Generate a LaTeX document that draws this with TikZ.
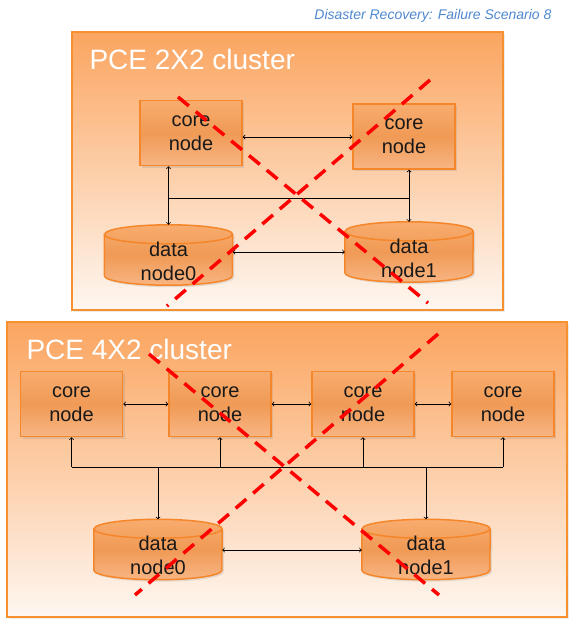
\documentclass[tikz,border=0pt]{standalone}
\usepackage{fontspec}
\setmainfont{Liberation Sans}
\usetikzlibrary{shadows}

\definecolor{clusterTop}{HTML}{FBA560}
\definecolor{clusterBot}{HTML}{FEF7F1}
\definecolor{clusterEdge}{HTML}{F7902F}
\definecolor{nodeTop}{HTML}{F8AC6E}
\definecolor{nodeMid}{HTML}{F09A55}
\definecolor{nodeBot}{HTML}{F8B583}
\definecolor{nodeEdge}{HTML}{F5862A}
\definecolor{titleBlue}{HTML}{4F88D0}

\tikzset{
  cluster/.style={draw=clusterEdge, line width=2pt, top color=clusterTop, bottom color=clusterBot,
    drop shadow={opacity=0.15, shadow xshift=2pt, shadow yshift=-2pt}},
  nodetext/.style={align=center, font=\fontsize{20}{24}\selectfont, text=black!90},
  corenode/.style={nodetext, draw=nodeEdge, line width=1.5pt, minimum width=102pt, minimum height=65pt,
    top color=nodeTop, bottom color=nodeBot, middle color=nodeMid,
    drop shadow={opacity=0.2, shadow xshift=2pt, shadow yshift=-2pt}},
  databox/.style={minimum width=128pt, minimum height=60pt, inner sep=0pt},
  cylfill/.style={draw=nodeEdge, line width=1.5pt, top color=nodeTop, bottom color=nodeBot, middle color=nodeMid,
    drop shadow={opacity=0.2, shadow xshift=2pt, shadow yshift=-2pt}},
  cluster title/.style={anchor=base west, text=white, font=\fontsize{28}{32}\selectfont},
  failx/.style={red, line width=3.5pt, dash pattern=on 14pt off 9pt},
  link/.style={black, line width=0.8pt}
}

% cylinder round the box of a data node, text set a bit below its centre
\newcommand{\datacyl}[2]{%
  \path[cylfill] ([yshift=-9.5pt]#1.north west) -- ([yshift=9.5pt]#1.south west)
    arc[start angle=180, end angle=360, x radius=64pt, y radius=9.5pt]
    -- ([yshift=-9.5pt]#1.north east)
    arc[start angle=0, end angle=180, x radius=64pt, y radius=9.5pt] -- cycle;
  \draw[nodeEdge, line width=1.5pt] ([yshift=-9.5pt]#1.north west)
    arc[start angle=180, end angle=360, x radius=64pt, y radius=9.5pt];
  \node[nodetext] (#1t) at ([yshift=-6pt]#1.center) {#2};
}

\begin{document}
\begin{tikzpicture}[x=1pt,y=-1pt]

    \useasboundingbox (0,0) rectangle (576,627);

    % Header
    \node[anchor=east, text=titleBlue, font=\fontsize{14}{16}\selectfont\itshape] (header) at (555,16) {Disaster Recovery: Failure Scenario 8};

    % PCE 2X2 cluster
    \draw[cluster] (72,32) rectangle (503,310);
    \node[cluster title] (title2) at (86,69) {PCE 2X2 cluster};

    \node[corenode] (c1) at (191,133) {core\\node};
    \node[corenode] (c2) at (404,136.5) {core\\node};
    \node[databox] (d0) at (168.5,255) {};
    \node[databox] (d1) at (409,252) {};
    \datacyl{d0}{data\\node0}
    \datacyl{d1}{data\\node1}

    \coordinate (busA) at (0,198);

    \draw[link,<->] (c1.east |- 0,137) -- (c2.west |- 0,137);
    \draw[link,<->] (d0.north |- c1.south) -- (d0.north);
    \draw[link,<->] (d1.north |- c2.south) -- (d1.north);
    \draw[link] (d0.north |- busA) -- (d1.north |- busA);
    \draw[link,<->] (d0.east |- 0,252) -- (d1.west |- 0,252);

    % PCE 4X2 cluster
    \draw[cluster] (7,322) rectangle (567,617);
    \node[cluster title] (title4) at (23,359) {PCE 4X2 cluster};

    \foreach \name/\x in {k1/71.5, k2/220, k3/363, k4/503} {
        \node[corenode] (\name) at (\x,404) {core\\node};
    }
    \node[databox] (e0) at (158,549.5) {};
    \node[databox] (e1) at (426,549.5) {};
    \datacyl{e0}{data\\node0}
    \datacyl{e1}{data\\node1}

    \coordinate (busB) at (0,467);

    \draw[link,<->] (k1) -- (k2);
    \draw[link,<->] (k2) -- (k3);
    \draw[link,<->] (k3) -- (k4);
    \draw[link] (k1.south |- busB) -- (k4.south |- busB);
    \foreach \name in {k1,k2,k3,k4} {
        \draw[link,->] (\name.south |- busB) -- (\name.south);
    }
    \draw[link,->] (e0.north |- busB) -- (e0.north);
    \draw[link,->] (e1.north |- busB) -- (e1.north);
    \draw[link,<->] (e0.east |- 0,550) -- (e1.west |- 0,550);

    % Failure crosses
    \coordinate (f1a) at (178,97);
    \coordinate (f1b) at (428,303);
    \coordinate (f2a) at (430,80);
    \coordinate (f2b) at (167,306);
    \draw[failx] (f1a) -- (f1b);
    \draw[failx] (f2a) -- (f2b);

    \coordinate (g1a) at (149,354);
    \coordinate (g1b) at (439,595);
    \coordinate (g2a) at (438,334);
    \coordinate (g2b) at (135,595);
    \draw[failx] (g1a) -- (g1b);
    \draw[failx] (g2a) -- (g2b);

\end{tikzpicture}
\end{document}
